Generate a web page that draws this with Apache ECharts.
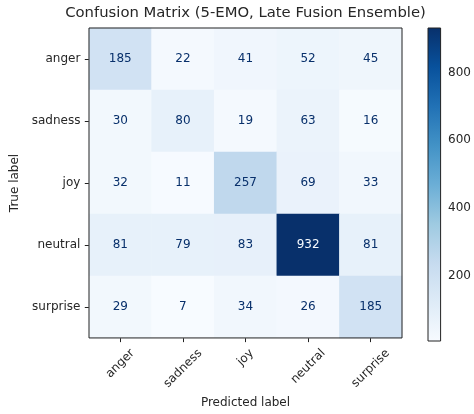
<!DOCTYPE html>
<html>
<head>
<meta charset="utf-8">
<script src="https://cdn.jsdelivr.net/npm/echarts@6/dist/echarts.min.js"></script>
<style>
  html, body { margin: 0; padding: 0; background: #fff; }
  #chart { width: 474px; height: 414px; }
</style>
</head>
<body>
<div id="chart"></div>
<script>
// Class names for both axes (rows = true label, columns = predicted label)
const classes = ['anger', 'sadness', 'joy', 'neutral', 'surprise'];

// Confusion matrix counts, one array per true class
const rowAnger    = [185, 22, 41, 52, 45];
const rowSadness  = [30, 80, 19, 63, 16];
const rowJoy      = [32, 11, 257, 69, 33];
const rowNeutral  = [81, 79, 83, 932, 81];
const rowSurprise = [29, 7, 34, 26, 185];
const matrixRows = [rowAnger, rowSadness, rowJoy, rowNeutral, rowSurprise];

// Colorbar tick labels
const colorbarTicks = [200, 400, 600, 800];

// "Blues" colormap stops
const blues = ['#f7fbff', '#deebf7', '#c6dbef', '#9ecae1', '#6baed6',
               '#4292c6', '#2171b5', '#08519c', '#08306b'];

const flat = matrixRows.flat();
const vMin = Math.min(...flat);
const vMax = Math.max(...flat);
const threshold = (vMin + vMax) / 2;

const font = 'DejaVu Sans';
const fs = 12;
const titleFs = 14.8;
const txt = '#262626';
const edge = '#222';
const tickLen = 4.2;
const tickPad = 4.2;

const gridLeft = 89, gridTop = 28, gridSize = 313;
const titleText = 'Confusion Matrix (5-EMO, Late Fusion Ensemble)';

const measureCtx = document.createElement('canvas').getContext('2d');

// Title centred over the matrix
measureCtx.font = titleFs + 'px "' + font + '"';
const titleW = measureCtx.measureText(titleText).width;

// Rotated x labels are centred under their tick with the top of the rotated
// box at a fixed distance below the axis, so longer words sit lower.
measureCtx.font = fs + 'px "' + font + '"';
const lineH = 14;
const centreDist = classes.map(c =>
  tickLen + tickPad + (measureCtx.measureText(c).width + lineH) / (2 * Math.SQRT2));
const baseMargin = Math.min(...centreDist);
const richStyles = {};
classes.forEach((c, i) => {
  const p = (centreDist[i] - baseMargin) * Math.SQRT2;
  richStyles['l' + i] = {
    fontFamily: font, fontSize: fs, color: txt,
    padding: [p, p, 0, 0]
  };
});

const chart = echarts.init(document.getElementById('chart'), null, { renderer: 'canvas' });

chart.setOption({
  animation: false,
  backgroundColor: '#fff',
  title: {
    text: titleText,
    left: gridLeft + gridSize / 2 - titleW / 2, top: 6, padding: 0,
    textStyle: { fontFamily: font, fontSize: titleFs, fontWeight: 'normal', color: txt }
  },
  grid: [
    { left: gridLeft, top: gridTop, width: gridSize, height: gridSize, show: true, z: 5,
      borderColor: edge, borderWidth: 1, backgroundColor: 'transparent' },
    { left: 428, top: gridTop, width: 15, height: gridSize }
  ],
  xAxis: [
    {
      gridIndex: 0, type: 'category', data: classes, position: 'bottom',
      name: 'Predicted label', nameLocation: 'middle', nameGap: 58,
      nameTextStyle: { fontFamily: font, fontSize: fs, color: txt },
      axisLine: { show: false },
      axisTick: { show: true, alignWithLabel: true, length: tickLen, lineStyle: { color: edge } },
      axisLabel: {
        interval: 0, rotate: 45, margin: baseMargin,
        align: 'center', verticalAlign: 'middle',
        fontFamily: font, fontSize: fs, color: txt,
        formatter: function (value, idx) {
          return '{l' + idx + '|' + value + '}';
        },
        rich: richStyles
      },
      splitLine: { show: false }
    },
    { gridIndex: 1, type: 'value', min: 0, max: 1, show: false }
  ],
  yAxis: [
    {
      gridIndex: 0, type: 'category', data: classes, inverse: true,
      name: 'True label', nameLocation: 'middle', nameGap: 67, nameRotate: 90,
      nameTextStyle: { fontFamily: font, fontSize: fs, color: txt },
      axisLine: { show: false },
      axisTick: { show: true, alignWithLabel: true, length: tickLen, lineStyle: { color: edge } },
      axisLabel: { interval: 0, margin: 8.6, fontFamily: font, fontSize: fs, color: txt },
      splitLine: { show: false }
    },
    {
      gridIndex: 1, type: 'value', min: vMin, max: vMax, position: 'right',
      axisLine: { show: false },
      axisTick: { show: true, length: tickLen, lineStyle: { color: edge }, customValues: colorbarTicks },
      axisLabel: { margin: 7.5, fontFamily: font, fontSize: fs, color: txt, customValues: colorbarTicks },
      splitLine: { show: false }
    }
  ],
  visualMap: {
    show: false, type: 'continuous', seriesIndex: 0,
    min: vMin, max: vMax, inRange: { color: blues }
  },
  series: [
    {
      type: 'heatmap', xAxisIndex: 0, yAxisIndex: 0,
      data: matrixRows.flatMap((row, r) => row.map((v, c) => ({
        value: [c, r, v],
        // light text on dark cells
        label: { color: v > threshold ? '#f7fbff' : '#08306b' }
      }))),
      label: {
        show: true, fontFamily: font, fontSize: fs,
        formatter: p => String(p.value[2])
      },
      itemStyle: { borderWidth: 0 },
      emphasis: { disabled: true }
    },
    {
      // colorbar strip spanning the value range
      type: 'custom', xAxisIndex: 1, yAxisIndex: 1,
      data: [[0, vMin, vMax]],
      silent: true,
      renderItem: function (params, api) {
        const p0 = api.coord([0, api.value(1)]);
        const p1 = api.coord([1, api.value(2)]);
        const stops = blues.map((c, i) => ({ offset: i / (blues.length - 1), color: c }));
        return {
          type: 'rect',
          shape: { x: p0[0], y: p1[1], width: p1[0] - p0[0], height: p0[1] - p1[1] },
          style: {
            fill: new echarts.graphic.LinearGradient(0, 1, 0, 0, stops),
            stroke: edge, lineWidth: 1
          }
        };
      }
    }
  ]
});
</script>
</body>
</html>
